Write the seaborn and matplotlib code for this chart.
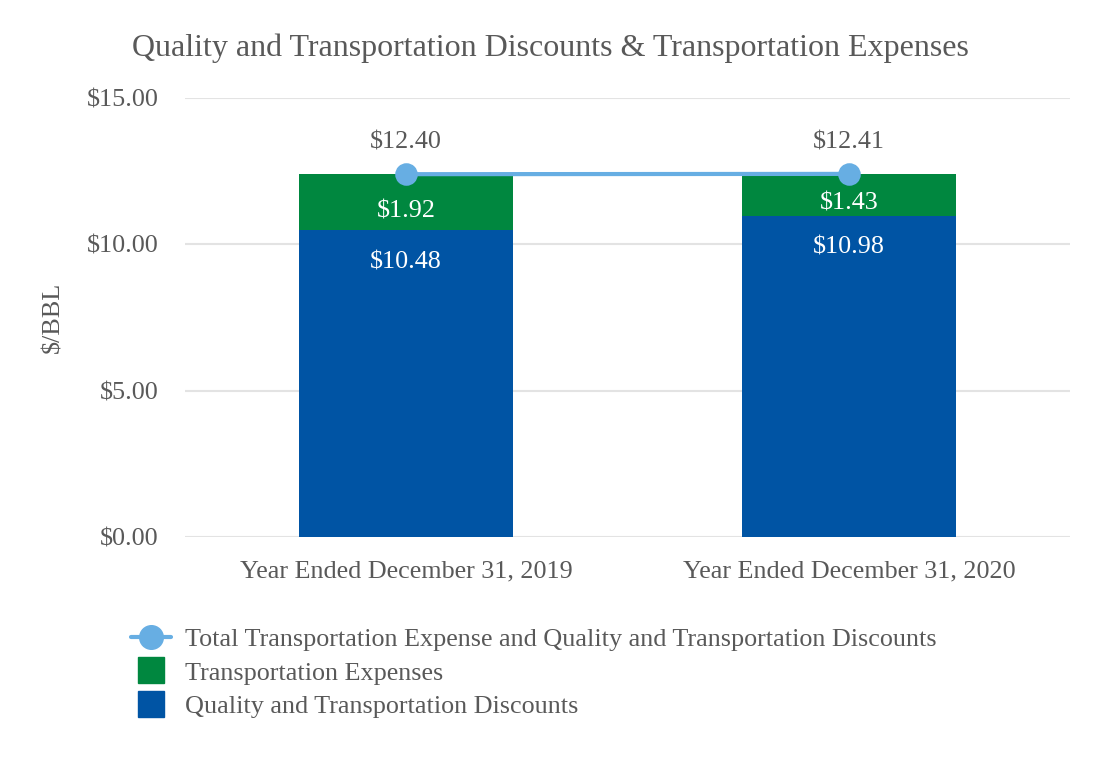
import matplotlib
matplotlib.use("Agg")
import matplotlib.pyplot as plt
import seaborn as sns
import pandas as pd
from matplotlib.lines import Line2D

categories = ["Year Ended December 31, 2019", "Year Ended December 31, 2020"]
discounts = [10.48, 10.98]
transport = [1.92, 1.43]
totals = [12.40, 12.41]
yticks = [0, 5, 10, 15]
ytick_labels = ["$0.00", "$5.00", "$10.00", "$15.00"]

BLUE = "#0054A4"
GREEN = "#00873F"
LINE = "#67AEE3"
TXT = "#595959"

sns.set_theme(style="white")
plt.rcParams["font.family"] = ["Liberation Serif", "DejaVu Serif"]

df = pd.DataFrame({"cat": categories, "disc": discounts, "trans": transport, "total": totals})
df["stack"] = df["disc"] + df["trans"]

fig = plt.figure(figsize=(11, 7.6), dpi=100)
ax = fig.add_axes([0.168, 0.293, 0.805, 0.578])

sns.barplot(data=df, x="cat", y="stack", color=GREEN, width=0.484, saturation=1, ax=ax,
            linewidth=0, zorder=2)
sns.barplot(data=df, x="cat", y="disc", color=BLUE, width=0.484, saturation=1, ax=ax,
            linewidth=0, zorder=3)
sns.pointplot(data=df, x="cat", y="total", color=LINE, markers="o", markersize=14,
              linewidth=3, ax=ax, zorder=4)

FS = 18.8
for i, row in df.iterrows():
    ax.text(i, row["disc"] - 1.1, f"${row['disc']:.2f}", ha="center", va="center", color="white", fontsize=FS, zorder=5)
    ax.text(i, row["disc"] + row["trans"] / 2 - 0.3, f"${row['trans']:.2f}", ha="center", va="center", color="white", fontsize=FS, zorder=5)
    ax.text(i, row["total"] + 1.07, f"${row['total']:.2f}", ha="center", va="center", color=TXT, fontsize=FS, zorder=5)

ax.set_xlim(-0.5, 1.5)
ax.set_ylim(0, 15)
ax.set_yticks(yticks)
ax.set_yticklabels(ytick_labels)
ax.grid(axis="y", color="#E3E3E3", linewidth=1.5, zorder=0)
ax.set_axisbelow(True)
for s in ax.spines.values():
    s.set_visible(False)
ax.tick_params(axis="y", length=0, labelsize=FS, labelcolor=TXT, pad=19)
ax.tick_params(axis="x", length=0, labelsize=FS, labelcolor=TXT, pad=17)
ax.set_xlabel("")
ax.set_ylabel("$/BBL", fontsize=FS, color=TXT)
ax.yaxis.set_label_coords(-0.136, 0.5)
fig.text(0.5, 0.937, "Quality and Transportation Discounts & Transportation Expenses",
         ha="center", va="center", fontsize=23, color=TXT)

handles = [
    Line2D([0], [0], color=LINE, linewidth=3, marker="o", markersize=17),
    Line2D([0], [0], color=GREEN, linestyle="", marker="s", markersize=19),
    Line2D([0], [0], color=BLUE, linestyle="", marker="s", markersize=19),
]
labels = ["Total Transportation Expense and Quality and Transportation Discounts",
          "Transportation Expenses", "Quality and Transportation Discounts"]
leg = fig.legend(handles, labels, loc="upper left", bbox_to_anchor=(0.11, 0.188), frameon=False,
                 fontsize=FS, labelcolor=TXT, handlelength=1.5, handletextpad=0.55,
                 labelspacing=0.4, borderaxespad=0)

fig.savefig("out.png", dpi=100)
